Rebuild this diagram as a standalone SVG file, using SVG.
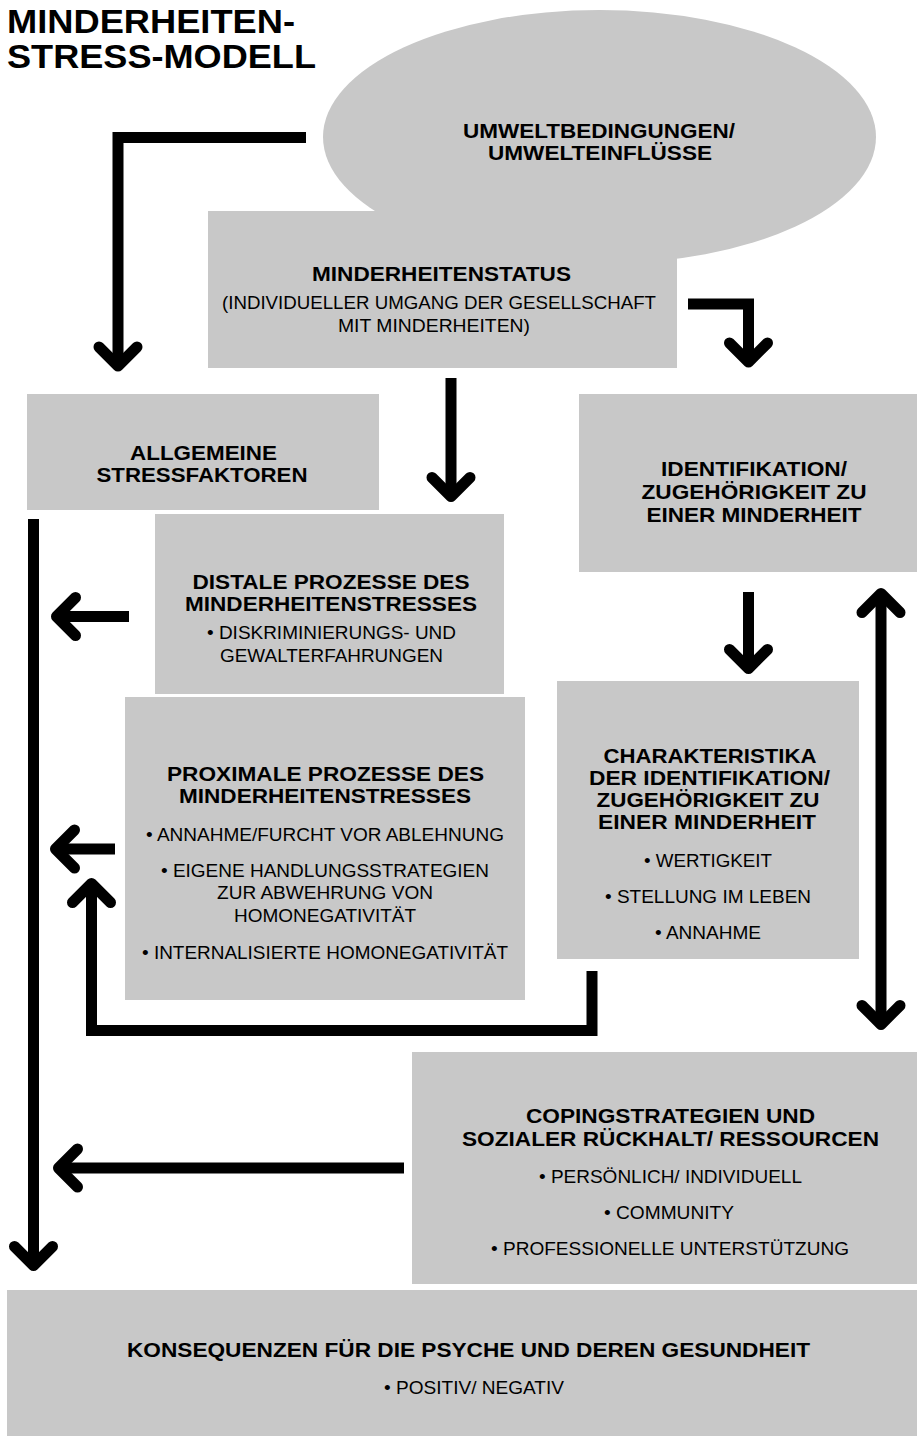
<svg xmlns="http://www.w3.org/2000/svg" width="917" height="1436" viewBox="0 0 917 1436">
<style>
.box{fill:#c8c8c8}
.h{font-family:"Liberation Sans",Arial,sans-serif;font-weight:bold;font-size:20.5px;fill:#000;text-anchor:middle}
.t{font-family:"Liberation Sans",Arial,sans-serif;font-size:18px;fill:#000;text-anchor:middle}
.title{font-family:"Liberation Sans",Arial,sans-serif;font-weight:bold;font-size:34px;fill:#000}
.ln{fill:none;stroke:#000;stroke-width:11;stroke-linejoin:miter}
.hd{fill:none;stroke:#000;stroke-width:11;stroke-linecap:round;stroke-linejoin:round}
</style>
<rect width="917" height="1436" fill="#fff"/>
<g id="title">
<text class="title" x="7" y="33" textLength="288" lengthAdjust="spacingAndGlyphs">MINDERHEITEN-</text>
<text class="title" x="7" y="68" textLength="309" lengthAdjust="spacingAndGlyphs">STRESS-MODELL</text>
</g>
<g id="umwelt">
<ellipse class="box" cx="599.5" cy="137" rx="276.5" ry="127"/>
<text class="h" x="599" y="138" textLength="272" lengthAdjust="spacingAndGlyphs">UMWELTBEDINGUNGEN/</text>
<text class="h" x="600" y="160" textLength="224" lengthAdjust="spacingAndGlyphs">UMWELTEINFLÜSSE</text>
</g>
<g id="minderheitenstatus">
<rect class="box" x="208" y="211" width="469" height="157"/>
<text class="h" x="441.5" y="281" textLength="259" lengthAdjust="spacingAndGlyphs">MINDERHEITENSTATUS</text>
<text class="t" x="439" y="309" textLength="434" lengthAdjust="spacingAndGlyphs">(INDIVIDUELLER UMGANG DER GESELLSCHAFT</text>
<text class="t" x="434" y="332" textLength="192" lengthAdjust="spacingAndGlyphs">MIT MINDERHEITEN)</text>
</g>
<g id="allgemeine">
<rect class="box" x="27" y="394" width="352" height="116"/>
<text class="h" x="203.5" y="460" textLength="147" lengthAdjust="spacingAndGlyphs">ALLGEMEINE</text>
<text class="h" x="202" y="482" textLength="211" lengthAdjust="spacingAndGlyphs">STRESSFAKTOREN</text>
</g>
<g id="identifikation">
<rect class="box" x="579" y="394" width="338" height="178"/>
<text class="h" x="754" y="476" textLength="186" lengthAdjust="spacingAndGlyphs">IDENTIFIKATION/</text>
<text class="h" x="754" y="499" textLength="225" lengthAdjust="spacingAndGlyphs">ZUGEHÖRIGKEIT ZU</text>
<text class="h" x="754" y="522" textLength="215" lengthAdjust="spacingAndGlyphs">EINER MINDERHEIT</text>
</g>
<g id="distale">
<rect class="box" x="155" y="514" width="349" height="180"/>
<text class="h" x="331" y="589" textLength="277" lengthAdjust="spacingAndGlyphs">DISTALE PROZESSE DES</text>
<text class="h" x="331" y="611" textLength="292" lengthAdjust="spacingAndGlyphs">MINDERHEITENSTRESSES</text>
<text class="t" x="331.5" y="639" textLength="249" lengthAdjust="spacingAndGlyphs">• DISKRIMINIERUNGS- UND</text>
<text class="t" x="331.5" y="662" textLength="223" lengthAdjust="spacingAndGlyphs">GEWALTERFAHRUNGEN</text>
</g>
<g id="proximale">
<rect class="box" x="125" y="697" width="400" height="303"/>
<text class="h" x="325.5" y="781" textLength="317" lengthAdjust="spacingAndGlyphs">PROXIMALE PROZESSE DES</text>
<text class="h" x="325" y="803" textLength="292" lengthAdjust="spacingAndGlyphs">MINDERHEITENSTRESSES</text>
<text class="t" x="325" y="841" textLength="358" lengthAdjust="spacingAndGlyphs">• ANNAHME/FURCHT VOR ABLEHNUNG</text>
<text class="t" x="325" y="877" textLength="328" lengthAdjust="spacingAndGlyphs">• EIGENE HANDLUNGSSTRATEGIEN</text>
<text class="t" x="325" y="899" textLength="216" lengthAdjust="spacingAndGlyphs">ZUR ABWEHRUNG VON</text>
<text class="t" x="325" y="922" textLength="182" lengthAdjust="spacingAndGlyphs">HOMONEGATIVITÄT</text>
<text class="t" x="325" y="959" textLength="366" lengthAdjust="spacingAndGlyphs">• INTERNALISIERTE HOMONEGATIVITÄT</text>
</g>
<g id="charakteristika">
<rect class="box" x="557" y="681" width="302" height="278"/>
<text class="h" x="710" y="763" textLength="213" lengthAdjust="spacingAndGlyphs">CHARAKTERISTIKA</text>
<text class="h" x="709.5" y="785" textLength="241" lengthAdjust="spacingAndGlyphs">DER IDENTIFIKATION/</text>
<text class="h" x="708" y="807" textLength="223" lengthAdjust="spacingAndGlyphs">ZUGEHÖRIGKEIT ZU</text>
<text class="h" x="707" y="829" textLength="218" lengthAdjust="spacingAndGlyphs">EINER MINDERHEIT</text>
<text class="t" x="708" y="867" textLength="128" lengthAdjust="spacingAndGlyphs">• WERTIGKEIT</text>
<text class="t" x="708" y="903" textLength="206" lengthAdjust="spacingAndGlyphs">• STELLUNG IM LEBEN</text>
<text class="t" x="708" y="939" textLength="106" lengthAdjust="spacingAndGlyphs">• ANNAHME</text>
</g>
<g id="coping">
<rect class="box" x="412" y="1052" width="505" height="232"/>
<text class="h" x="670.5" y="1123" textLength="289" lengthAdjust="spacingAndGlyphs">COPINGSTRATEGIEN UND</text>
<text class="h" x="670.5" y="1146" textLength="417" lengthAdjust="spacingAndGlyphs">SOZIALER RÜCKHALT/ RESSOURCEN</text>
<text class="t" x="670.5" y="1183" textLength="263" lengthAdjust="spacingAndGlyphs">• PERSÖNLICH/ INDIVIDUELL</text>
<text class="t" x="669" y="1219" textLength="130" lengthAdjust="spacingAndGlyphs">• COMMUNITY</text>
<text class="t" x="670" y="1255" textLength="358" lengthAdjust="spacingAndGlyphs">• PROFESSIONELLE UNTERSTÜTZUNG</text>
</g>
<g id="konsequenzen">
<rect class="box" x="7" y="1290" width="910" height="146"/>
<text class="h" x="468.5" y="1357" textLength="683" lengthAdjust="spacingAndGlyphs">KONSEQUENZEN FÜR DIE PSYCHE UND DEREN GESUNDHEIT</text>
<text class="t" x="474" y="1394" textLength="180" lengthAdjust="spacingAndGlyphs">• POSITIV/ NEGATIV</text>
</g>
<g id="connectors">
<path class="ln" d="M306,137.5 H118 V366"/>
<path class="hd" d="M99,347 L118,366 L137,347"/>
<path class="ln" d="M688,304 H748.5 V362"/>
<path class="hd" d="M729.5,343 L748.5,362 L767.5,343"/>
<path class="ln" d="M451,378 V496.5"/>
<path class="hd" d="M432,477.5 L451,496.5 L470,477.5"/>
<path class="ln" d="M33.5,519 V1265.5"/>
<path class="hd" d="M14.5,1246.5 L33.5,1265.5 L52.5,1246.5"/>
<path class="ln" d="M129,616.5 H56.5"/>
<path class="hd" d="M75.5,597.5 L56.5,616.5 L75.5,635.5"/>
<path class="ln" d="M115,849 H55.5"/>
<path class="hd" d="M74.5,830 L55.5,849 L74.5,868"/>
<path class="ln" d="M592,971 V1030.5 H91.5 V883.5"/>
<path class="hd" d="M72.5,902.5 L91.5,883.5 L110.5,902.5"/>
<path class="ln" d="M748.5,592 V668.5"/>
<path class="hd" d="M729.5,649.5 L748.5,668.5 L767.5,649.5"/>
<path class="ln" d="M881,593.5 V1024.5"/>
<path class="hd" d="M862,612.5 L881,593.5 L900,612.5"/>
<path class="hd" d="M862,1005.5 L881,1024.5 L900,1005.5"/>
<path class="ln" d="M404,1168 H58.5"/>
<path class="hd" d="M77.5,1149 L58.5,1168 L77.5,1187"/>
</g>
</svg>
